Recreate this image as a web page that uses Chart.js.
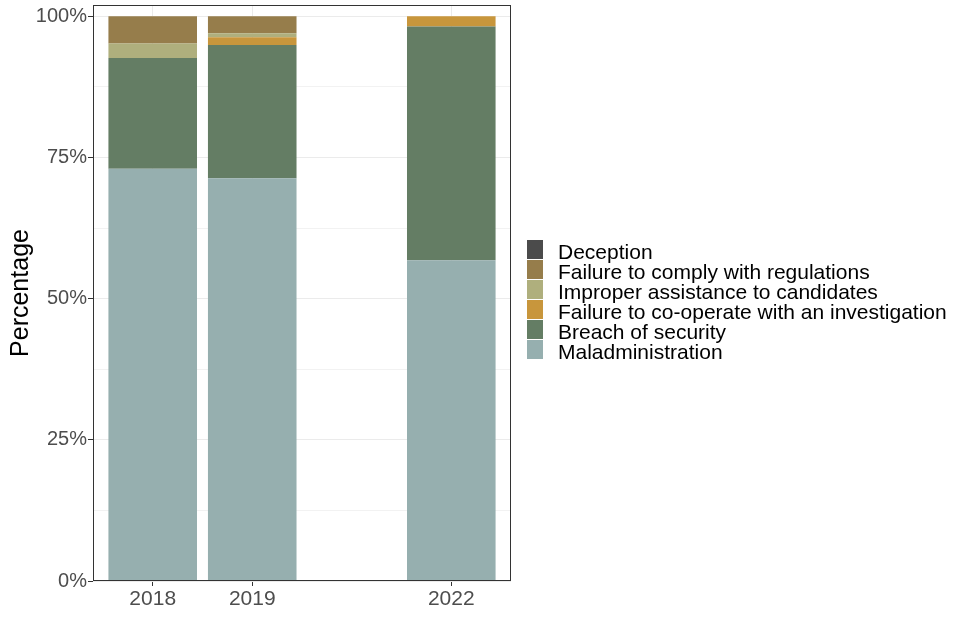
<!DOCTYPE html>
<html>
<head>
<meta charset="utf-8">
<script src="https://cdn.jsdelivr.net/npm/chart.js@4/dist/chart.umd.min.js"></script>
<style>
  html, body { margin: 0; padding: 0; background: #fff; }
  #wrap { width: 960px; height: 640px; }
</style>
</head>
<body>
<div id="wrap"><canvas id="c" width="960" height="640"></canvas></div>
<script>
// Category slots along the x axis (the empty slot is a gap with no bar)
const categories = ['2018', '2019', '', '2022'];
const years = ['2018', '2019', '2022'];

// Percentages per year (stack order bottom -> top)
const maladministration = [73.0, 71.3, 56.8];
const breachOfSecurity  = [19.6, 23.6, 41.4];
const failureToCooperate = [0.0, 1.4, 1.8];
const improperAssistance = [2.6, 0.7, 0.0];
const failureToComply    = [4.8, 3.0, 0.0];
const deception          = [0.0, 0.0, 0.0];

const yTicks = [0, 12.5, 25, 37.5, 50, 62.5, 75, 87.5, 100];

const seriesNames = ['Maladministration', 'Breach of security', 'Failure to co-operate with an investigation',
  'Improper assistance to candidates', 'Failure to comply with regulations', 'Deception'];
const seriesValues = [maladministration, breachOfSecurity, failureToCooperate, improperAssistance, failureToComply, deception];
const seriesColors = ['#96AFAF', '#647D64', '#C8963C', '#AFAF7D', '#967D4B', '#4B4B4B'];

const FONT = "'Liberation Sans', Arial, sans-serif";

const datasets = seriesNames.map((name, i) => ({
  label: name,
  data: years.map((yr, j) => ({ x: categories.indexOf(yr) + 1, y: seriesValues[i][j] })),
  backgroundColor: seriesColors[i],
  borderWidth: 0,
  barPercentage: 0.89,
  categoryPercentage: 1.0
}));

const framePlugin = {
  id: 'frame',
  afterDatasetsDraw(chart) {
    const { ctx, chartArea: a } = chart;
    ctx.save();
    ctx.strokeStyle = '#333333';
    ctx.lineWidth = 1;
    ctx.strokeRect(Math.round(a.left) + 0.5, Math.round(a.top) + 0.5, Math.round(a.right - a.left) - 1, Math.round(a.bottom - a.top) - 1);
    ctx.restore();
  }
};

const legendPlugin = {
  id: 'sideLegend',
  afterDraw(chart) {
    const { ctx, chartArea: a } = chart;
    const items = chart.data.datasets.slice().reverse();
    const boxX = a.right + 16, boxW = 16, boxH = 19, rowH = 20;
    const top = 240;
    ctx.save();
    ctx.font = '21px ' + FONT;
    ctx.textBaseline = 'alphabetic';
    ctx.textAlign = 'left';
    items.forEach((ds, i) => {
      const y = top + i * rowH;
      ctx.fillStyle = ds.backgroundColor;
      ctx.fillRect(boxX, y, boxW, boxH);
      ctx.fillStyle = '#000000';
      ctx.fillText(ds.label, boxX + boxW + 15, y + 19);
    });
    ctx.restore();
  }
};

new Chart(document.getElementById('c'), {
  type: 'bar',
  data: { datasets },
  options: {
    responsive: false,
    animation: false,
    devicePixelRatio: 1,
    layout: { padding: { left: 0, top: 5, right: 449, bottom: 0 } },
    plugins: { legend: { display: false }, tooltip: { enabled: false } },
    scales: {
      x: {
        type: 'linear',
        stacked: true,
        offset: false,
        min: 0.4,
        max: categories.length + 0.6,
        afterBuildTicks(scale) {
          scale.ticks = categories.map((c, i) => ({ value: i + 1, label: c })).filter(t => t.label !== '');
        },
        afterFit(scale) {
          scale.height = 59;
          scale.paddingLeft = 0;
          scale.paddingRight = 0;
        },
        ticks: {
          callback(value) { return categories[value - 1] || ''; },
          color: '#4D4D4D',
          font: { family: FONT, size: 21 },
          padding: 1,
          maxRotation: 0,
          autoSkip: false
        },
        grid: { offset: false, color: '#EBEBEB', lineWidth: 1, tickLength: 5, tickColor: '#333333', drawOnChartArea: true },
        border: { display: false }
      },
      y: {
        stacked: true,
        min: 0,
        max: 102,
        afterBuildTicks(scale) {
          scale.ticks = yTicks.map(v => ({ value: v }));
        },
        afterFit(scale) {
          scale.width = 93;
          scale.paddingTop = 0;
          scale.paddingBottom = 0;
        },
        ticks: {
          callback(value) { return value % 25 === 0 ? value + '%' : ''; },
          color: '#4D4D4D',
          font: { family: FONT, size: 20 },
          padding: 1,
          autoSkip: false
        },
        grid: {
          color: (c) => (c.tick && c.tick.value % 25 === 0) ? '#EBEBEB' : '#F2F2F2',
          lineWidth: 1,
          tickLength: 5,
          tickColor: (c) => (c.tick && c.tick.value % 25 === 0) ? '#333333' : 'rgba(0,0,0,0)'
        },
        border: { display: false },
        title: {
          display: true,
          text: 'Percentage',
          color: '#000000',
          font: { family: FONT, size: 25 },
          padding: { top: 6, bottom: 0 }
        }
      }
    }
  },
  plugins: [framePlugin, legendPlugin]
});
</script>
</body>
</html>
